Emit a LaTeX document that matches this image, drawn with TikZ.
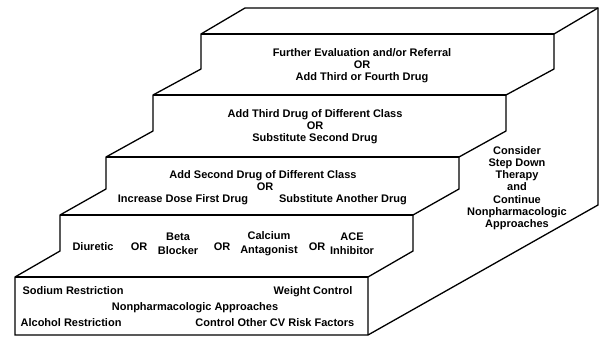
\documentclass[tikz,border=0pt]{standalone}
\usepackage{fontspec}
\setmainfont{Liberation Sans}

\begin{document}
\begin{tikzpicture}[x=1pt, y=-1pt, line width=1.3pt,
  every node/.style = {font=\bfseries\fontsize{11}{12}\selectfont,
    inner sep=0pt, align=center}]
  \useasboundingbox (0,0) rectangle (600,337);
  \draw (15,335) -- (15,277) -- (60,251) -- (60,215) -- (106,189) -- (106,157)
    -- (153,131) -- (153,95) -- (201,69) -- (201,34) -- (245,8) -- (598,8)
    -- (598,205) -- (368,335) -- cycle;
  \draw (368,335) -- (368,277) -- (413,251) -- (413,215) -- (459,189) -- (459,157)
    -- (506,131) -- (506,95) -- (554,69) -- (554,34) -- (598,8);
  \foreach \l/\t in {15/277, 60/215, 106/157, 153/95, 201/34}
    \draw (\l,\t) -- ++(353,0);
  \node (sodium) [anchor=base west] at (22,294) {Sodium Restriction};
  \node (weight) [anchor=base east] at (353,294) {Weight Control};
  \node (nonpharm) [anchor=base] at (195,310) {Nonpharmacologic Approaches};
  \node (alcohol) [anchor=base west] at (20,326) {Alcohol Restriction};
  \node (riskfactors) [anchor=base east] at (355,326) {Control Other CV Risk Factors};
  \node (diuretic) [anchor=base] at (93,250) {Diuretic};
  \node (or1) [anchor=base] at (139,250) {OR};
  \node (beta) [font=\bfseries\fontsize{11}{14}\selectfont] at (178,244) {Beta\\Blocker};
  \node (or2) [anchor=base] at (222,250) {OR};
  \node (calcium) [font=\bfseries\fontsize{11}{14}\selectfont] at (269,244) {Calcium\\Antagonist};
  \node (or3) [anchor=base] at (317,250) {OR};
  \node (ace) [font=\bfseries\fontsize{11}{14}\selectfont] at (352,244) {ACE\\Inhibitor};
  \node (second) [anchor=base] at (263,178) {Add Second Drug of Different Class};
  \node (or4) [anchor=base] at (265,190) {OR};
  \node (increase) [anchor=base] at (183,202) {Increase Dose First Drug};
  \node (another) [anchor=base] at (343,202) {Substitute Another Drug};
  \node (third) at (315,127) {Add Third Drug of Different Class\\OR\\Substitute Second Drug};
  \node (further) at (362,66) {Further Evaluation and/or Referral\\OR\\Add Third or Fourth Drug};
  \node (stepdown) [font=\bfseries\fontsize{11}{12.2}\selectfont] at (517,188)
    {Consider\\Step Down\\Therapy\\and\\Continue\\Nonpharmacologic\\Approaches};
\end{tikzpicture}
\end{document}
